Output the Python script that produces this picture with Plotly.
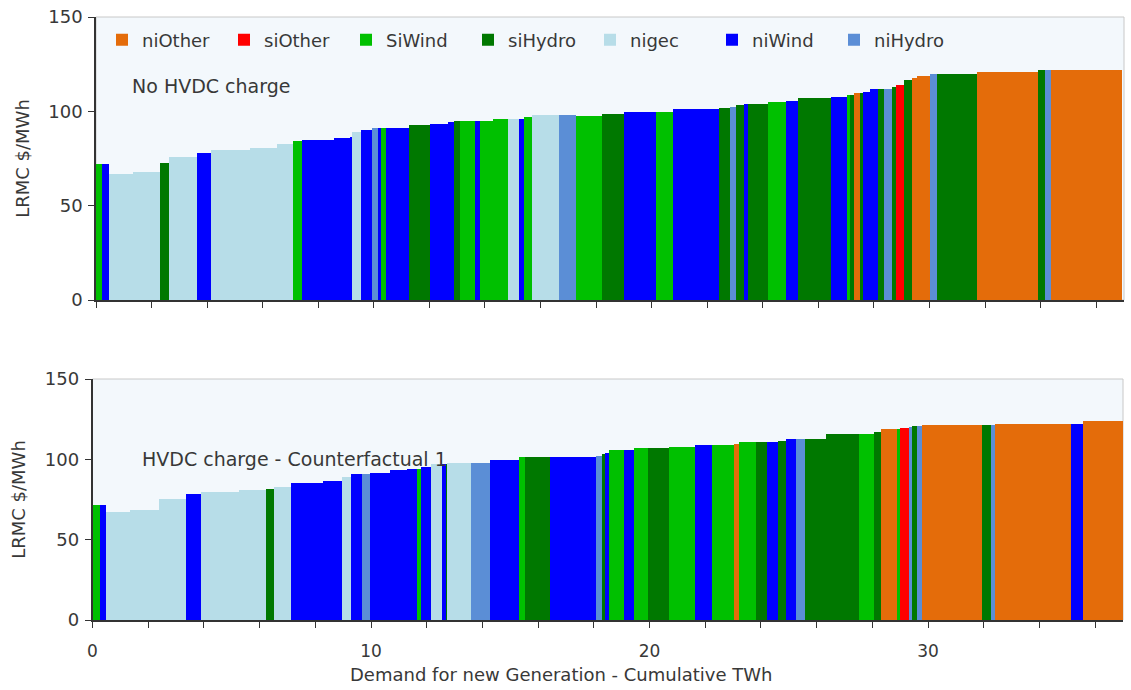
import numpy as np
import plotly.graph_objects as go

categories = ["niOther", "siOther", "SiWind", "siHydro", "nigec", "niWind", "niHydro"]
cat_colors = ["#E46C0A", "#FF0000", "#00C000", "#007800", "#B7DDE8", "#0000FF", "#5B8ED6"]

# Panel 1: No HVDC charge
top_cat = ["SiWind","niWind","nigec","nigec","siHydro","nigec","niWind","nigec","nigec","nigec",
           "SiWind","niWind","niWind","niWind","nigec","niWind","niHydro","niWind","SiWind","niWind",
           "siHydro","niWind","niWind","siHydro","SiWind","niWind","SiWind","SiWind","nigec","niWind",
           "SiWind","nigec","niHydro","SiWind","siHydro","niWind","SiWind","niWind","siHydro","niHydro",
           "siHydro","niWind","siHydro","SiWind","niWind","siHydro","niWind","SiWind","siHydro","niOther",
           "siHydro","niWind","niWind","siHydro","niHydro","siHydro","siOther","siHydro","niOther","niOther",
           "niHydro","siHydro","niOther","siHydro","niHydro","niOther"]
top_twh = [0.22,0.24,0.88,0.96,0.31,1.01,0.51,1.41,0.99,0.57,
           0.32,1.15,0.56,0.08,0.34,0.40,0.20,0.12,0.18,0.80,
           0.76,0.66,0.23,0.21,0.52,0.20,0.47,0.52,0.41,0.18,
           0.30,0.96,0.61,0.92,0.81,1.16,0.58,1.68,0.40,0.20,
           0.30,0.12,0.74,0.63,0.43,1.20,0.59,0.10,0.14,0.21,
           0.11,0.26,0.30,0.19,0.31,0.15,0.28,0.29,0.18,0.45,
           0.27,1.44,2.18,0.26,0.22,2.54]
top_lrmc = [72,72,67,68,72.5,75.6,78,79.5,80.4,82.5,
            84.3,84.8,85.7,86.6,88.9,90.1,91,91,91,91,
            92.6,93.3,94.2,94.7,94.7,94.7,94.7,96.1,96.1,96.1,
            97,97.9,97.9,97.7,98.8,99.5,99.5,101,101.6,102.5,
            103.2,104,104,104.8,105.6,106.9,107.8,108.7,108.7,109.6,
            109.6,110.1,111.7,111.7,111.7,113,114,116.4,117.8,118.7,
            120,120,120.8,121.7,121.7,121.7]

# Panel 2: HVDC charge - Counterfactual 1
bot_cat = ["SiWind","niWind","nigec","nigec","nigec","niWind","nigec","nigec","siHydro","nigec",
           "niWind","niWind","nigec","niWind","niHydro","niWind","niWind","niWind","SiWind","niWind",
           "nigec","niWind","siHydro","nigec","niHydro","niWind","SiWind","siHydro","niWind","niHydro",
           "siHydro","niWind","SiWind","niWind","SiWind","siHydro","SiWind","niWind","SiWind","niOther",
           "SiWind","siHydro","niWind","niWind","siHydro","niWind","niHydro","siHydro","siHydro","SiWind",
           "siHydro","niOther","SiWind","siOther","niHydro","siHydro","niHydro","niOther","siHydro","niHydro",
           "niOther","niWind","niOther"]
bot_twh = [0.24,0.24,0.84,1.04,0.99,0.51,1.38,0.98,0.27,0.63,
           1.13,0.70,0.30,0.41,0.27,0.72,0.63,0.34,0.17,0.35,
           0.40,0.14,0.04,0.85,0.70,1.04,0.19,0.91,1.65,0.20,
           0.14,0.12,0.53,0.37,0.50,0.75,0.94,0.62,0.78,0.19,
           0.59,0.42,0.15,0.24,0.29,0.36,0.31,0.77,1.19,0.52,
           0.26,0.58,0.08,0.33,0.10,0.20,0.16,2.17,0.33,0.12,
           2.75,0.43,1.45]
bot_lrmc = [71.6,71.6,67.4,68.5,75.3,78.2,79.9,80.9,81.5,82.6,
            85.3,86.5,88.8,90.7,90.7,91.7,93.4,94.2,94.2,95,
            96.9,96.9,96.9,97.9,97.9,99.6,101.2,101.2,101.2,102.1,
            103.1,104.1,106,106,106.8,106.8,107.9,108.7,108.7,109.5,
            110.6,110.6,110.6,110.6,111.4,112.5,112.5,112.5,115.8,115.8,
            116.8,118.7,118.7,119.5,120,120.7,120.7,121.4,121.4,121.4,
            122.2,122.2,124]

y_ticks = [0, 50, 100, 150]
x_ticks = [0, 10, 20, 30]
panel_titles = ["No HVDC charge", "HVDC charge - Counterfactual 1"]
y_title = "LRMC $/MWh"
x_title = "Demand for new Generation - Cumulative TWh"

FONT = "DejaVu Sans"
TXT = "#383838"

fig = go.Figure()


def add_panel(cats, widths, vals, xa, ya, legend):
    w = np.array(widths, dtype=float)
    left = np.concatenate([[0.0], np.cumsum(w)[:-1]])
    centers = left + w / 2
    cats = np.array(cats)
    v = np.array(vals, dtype=float)
    for c, col in zip(categories, cat_colors):
        m = cats == c
        fig.add_trace(go.Bar(
            x=centers[m], y=v[m], width=w[m], name=c,
            marker=dict(color=col, line=dict(width=0)),
            xaxis=xa, yaxis=ya, showlegend=legend, legendgroup=c,
        ))


add_panel(top_cat, top_twh, top_lrmc, "x", "y", True)
add_panel(bot_cat, bot_twh, bot_lrmc, "x2", "y2", False)

W, H = 1131, 690
ml, mr, mt, mb = 92, 6, 17, 70
pw = W - ml - mr
ph = H - mt - mb


def dx(px):
    return (px - ml) / pw


def dy(py):
    return 1 - (py - mt) / ph


xcommon = dict(
    range=[0, 37.0], tickvals=x_ticks, ticks="outside", ticklen=6, tickcolor="#333",
    showline=True, linecolor="#333", linewidth=1.5, showgrid=False, zeroline=False,
    minor=dict(dtick=2, ticks="outside", ticklen=6, tickcolor="#333", showgrid=False),
    tickfont=dict(family=FONT, size=17, color=TXT),
)
ycommon = dict(
    range=[0, 150], tickvals=y_ticks, ticks="outside", ticklen=6, tickcolor="#333",
    showline=True, linecolor="#333", linewidth=1.5, showgrid=False, zeroline=False,
    tickfont=dict(family=FONT, size=18, color=TXT), ticklabelstandoff=2,
    title=dict(text=y_title, font=dict(family=FONT, size=18, color=TXT), standoff=14),
)

fig.update_layout(
    width=W, height=H,
    margin=dict(l=ml, r=mr, t=mt, b=mb),
    paper_bgcolor="white", plot_bgcolor="#F3F8FC",
    barmode="overlay", bargap=0,
    xaxis=dict(domain=[dx(96), dx(1124)], anchor="y", showticklabels=False, **xcommon),
    yaxis=dict(domain=[dy(300), 1.0], anchor="x", **ycommon),
    xaxis2=dict(domain=[dx(92.5), dx(1123)], anchor="y2", showticklabels=True,
                ticklabelstandoff=9, **xcommon),
    yaxis2=dict(domain=[0.0, dy(379)], anchor="x2", **ycommon),
    legend=dict(orientation="h", x=dx(102), y=dy(40), xanchor="left", yanchor="middle",
                bgcolor="rgba(0,0,0,0)", font=dict(family=FONT, size=18, color=TXT),
                entrywidth=77, entrywidthmode="pixels", itemwidth=30,
                traceorder="normal"),
    showlegend=True,
)

# light frame around each plot area
for xr, yr in [("x domain", "y domain"), ("x2 domain", "y2 domain")]:
    fig.add_shape(type="rect", xref=xr, yref=yr, x0=0, x1=1, y0=0, y1=1,
                  line=dict(color="#C8C8C8", width=1), layer="below")

fig.add_annotation(text=panel_titles[0], xref="x domain", yref="y domain",
                   x=(130 - 96) / 1028, y=(300 - 86) / 283, xanchor="left", yanchor="middle",
                   showarrow=False, font=dict(family=FONT, size=19, color=TXT))
fig.add_annotation(text=panel_titles[1], xref="x2 domain", yref="y2 domain",
                   x=(140 - 92.5) / 1030.5, y=(620 - 459) / 241, xanchor="left", yanchor="middle",
                   showarrow=False, font=dict(family=FONT, size=19, color=TXT))
fig.add_annotation(text=x_title, xref="paper", yref="paper",
                   x=dx(561), y=dy(674), xanchor="center", yanchor="middle",
                   showarrow=False, font=dict(family=FONT, size=18, color=TXT))

fig.write_html("out.html", config={"displayModeBar": False},
               post_script="document.body.style.margin='0';")
